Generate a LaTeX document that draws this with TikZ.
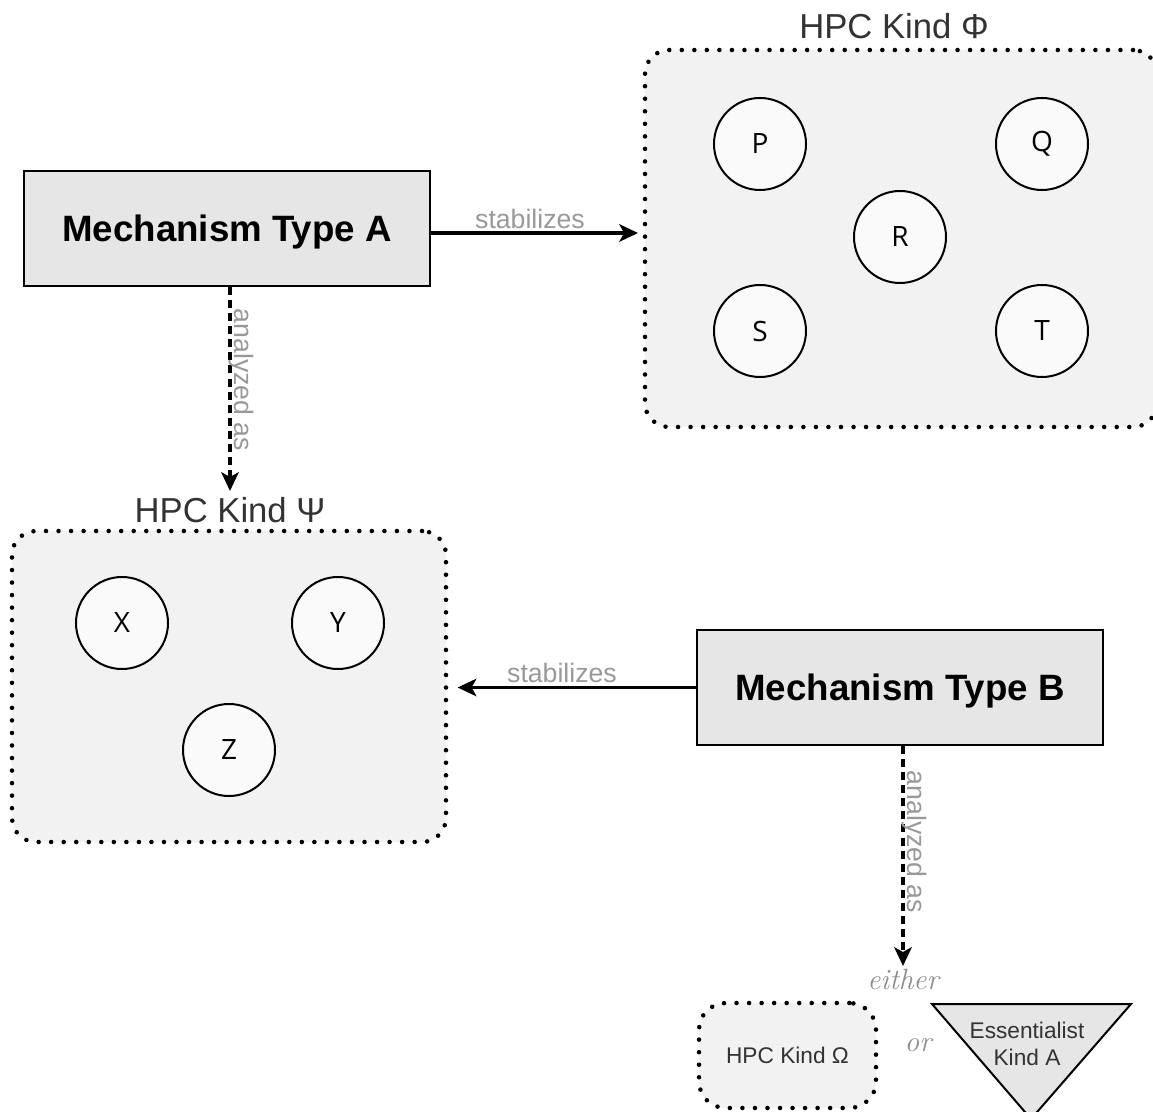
\documentclass[tikz,border=0pt]{standalone}
\usepackage{fontspec}
\setsansfont{Liberation Sans}
\newfontfamily\opensans{Open Sans}
\usetikzlibrary{arrows.meta}
\definecolor{mechgray}{HTML}{E6E6E6}
\definecolor{kindgray}{HTML}{F2F2F2}
\definecolor{circfill}{HTML}{FAFAFA}
\definecolor{titletext}{HTML}{333333}
\definecolor{labelgray}{HTML}{999999}
\definecolor{serifgray}{HTML}{8C8C8C}
\tikzset{
  mech/.style={draw=black, line width=1.6pt, fill=mechgray, minimum width=304.5pt, minimum height=86.25pt, inner sep=0pt, text depth=0pt, font=\sffamily\bfseries\fontsize{27.5}{33}\selectfont},
  dotborder/.style={draw=black, line width=3.4pt, line cap=round, dash pattern=on 0pt off 9.4pt},
  kindbox/.style={dotborder, fill=kindgray, rounded corners=18pt, inner sep=0pt},
  member/.style={circle, draw=black, line width=1.5pt, fill=circfill, minimum size=69pt, inner sep=0pt, font=\opensans\fontsize{21}{24}\selectfont},
  kindtitle/.style={text=titletext, font=\sffamily\fontsize{26}{30}\selectfont, inner sep=0pt},
  edgelabel/.style={text=labelgray, font=\sffamily\fontsize{20}{24}\selectfont, inner sep=0pt},
  seriflabel/.style={text=serifgray, font=\rmfamily\itshape\fontsize{22}{26}\selectfont, inner sep=0pt},
  smalltext/.style={text=titletext, font=\sffamily\fontsize{17}{20}\selectfont, inner sep=0pt, align=center},
  solidarrow/.style={line width=2.6pt, -{Stealth[length=14pt, width=13pt, inset=3.5pt]}},
  dasharrow/.style={line width=3pt, dash pattern=on 6pt off 3.8pt, -{Stealth[length=14pt, width=13pt, inset=3.5pt]}},
}
\begin{document}
\begin{tikzpicture}[x=0.75pt, y=-0.75pt]
\useasboundingbox (0,0) rectangle (1153,1112);
\clip (0,0) rectangle (1153,1112);

% Kind Phi
\node[kindbox, minimum width=384pt, minimum height=282.75pt] (phi) at (901,238.5) {};
\node[kindtitle] (phititle) at (894,26) {HPC Kind Φ};
\node[member] (P) at (760,144) {P};
\node[member] (Q) at (1042,144) {Q};
\node[member] (R) at (900,237) {R};
\node[member] (S) at (760,331) {S};
\node[member] (T) at (1042,331) {T};

% Kind Psi
\node[kindbox, minimum width=325.5pt, minimum height=233.25pt] (psi) at (229,686.5) {};
\node[kindtitle] (psititle) at (230,510) {HPC Kind Ψ};
\node[member] (X) at (122,623) {X};
\node[member] (Y) at (338,623) {Y};
\node[member] (Z) at (229,750) {Z};

% Mechanisms
\node[mech] (mA) at (227,228.5) {Mechanism Type A};
\node[mech] (mB) at (900,687.5) {Mechanism Type B};

% stabilizes arrows
\draw[solidarrow, shorten >=3.5pt] (mA.east |- 0,233) -- (phi.west |- 0,233);
\node[edgelabel] (stabA) at (530,219) {stabilizes};
\draw[solidarrow, shorten >=7pt] (mB.west) -- (psi.east |- mB.west);
\node[edgelabel] (stabB) at (562,673) {stabilizes};

% analyzed as A
\coordinate (tipA) at (230,491);
\draw[dasharrow] (mA.south -| tipA) -- (tipA);
\node[edgelabel, rotate=-90, anchor=base] (anA) at (234,380) {analyzed as};

% analyzed as B
\coordinate (tipB) at (903,966);
\draw[dasharrow] (mB.south -| tipB) -- (tipB);
\node[edgelabel, rotate=-90, anchor=base] (anB) at (907,842) {analyzed as};

\node[seriflabel] (either) at (903,979) {either};

% Omega
\node[kindbox, rounded corners=20pt, minimum width=132.75pt, minimum height=78.75pt, smalltext] (omega) at (787.5,1055.5) {HPC Kind Ω};
\node[seriflabel] (or) at (918,1045) {or};

% Essentialist triangle
\coordinate (t1) at (932,1004);
\coordinate (t2) at (1131,1004);
\coordinate (t3) at (1031,1119);
\draw[line width=1.5pt, fill=mechgray, line join=miter] (t1) -- (t2) -- (t3) -- cycle;
\node[smalltext] (ess) at (1027,1044) {Essentialist\\Kind A};
\end{tikzpicture}
\end{document}
